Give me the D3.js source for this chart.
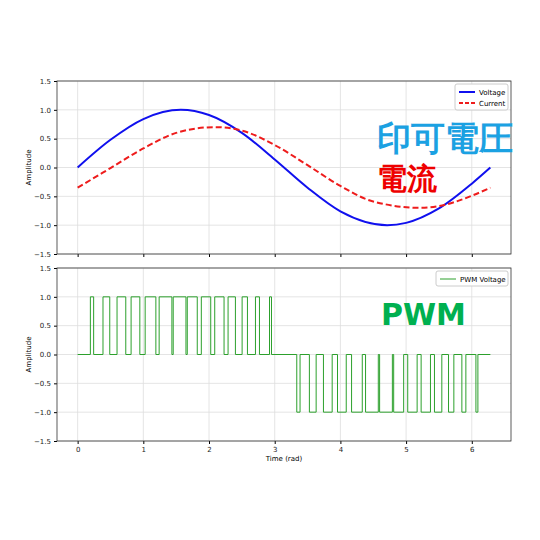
<!DOCTYPE html><html><head><meta charset="utf-8"><script src="https://cdn.jsdelivr.net/npm/d3@7"></script>
<style>body{margin:0;background:#fff}text{font-family:"DejaVu Sans",sans-serif}</style></head><body><svg id="c" width="540" height="540"></svg><script>
const tV=[0,0.5,1,1.571,2,2.5,3,3.5,4,4.712,5,5.5,6,6.283];
const voltage=[0,0.48,0.84,1,0.91,0.6,0.14,-0.35,-0.76,-1,-0.96,-0.71,-0.28,0];
const tI=[0,0.5,1,1.5,2.09,2.5,3,3.5,4,4.5,5.23,5.5,6,6.283];
const current=[-0.35,-0.01,0.33,0.6,0.7,0.64,0.39,0.04,-0.32,-0.59,-0.7,-0.67,-0.49,-0.35];
const posPulses=[[0.194,0.244],[0.386,0.489],[0.600,0.733],[0.814,0.947],[1.028,1.191],[1.241,1.435],[1.455,1.649],[1.669,1.821],[1.883,2.026],[2.087,2.229],[2.290,2.402],[2.504,2.585],[2.707,2.768],[2.921,2.951]];
const negPulses=[[3.336,3.386],[3.528,3.631],[3.742,3.875],[3.956,4.089],[4.170,4.333],[4.383,4.577],[4.597,4.791],[4.811,4.963],[5.025,5.168],[5.229,5.371],[5.432,5.544],[5.646,5.727],[5.849,5.910],[6.063,6.093]];
const xTicks=[0,1,2,3,4,5,6], yTicks=[-1.5,-1,-0.5,0,0.5,1,1.5];
const svg=d3.select("#c");
const x=d3.scaleLinear().domain([-0.314,6.597]).range([57,511]);
function panel(top,bot,showX){
 const y=d3.scaleLinear().domain([-1.5,1.5]).range([bot,top]);
 const g=svg.append("g");
 g.selectAll(".gx").data(xTicks).join("line").attr("x1",d=>x(d)).attr("x2",d=>x(d)).attr("y1",top).attr("y2",bot).attr("stroke","#ddd").attr("stroke-width",0.8);
 g.selectAll(".gy").data(yTicks).join("line").attr("y1",d=>y(d)).attr("y2",d=>y(d)).attr("x1",57).attr("x2",511).attr("stroke","#ddd").attr("stroke-width",0.8);
 const ay=g.append("g").attr("transform","translate(57,0)").call(d3.axisLeft(y).tickValues(yTicks).tickFormat(d3.format(".1f")).tickSize(3).tickSizeOuter(0));
 const ax=g.append("g").attr("transform",`translate(0,${bot})`).call(d3.axisBottom(x).tickValues(xTicks).tickFormat(showX?d3.format("d"):"").tickSize(3).tickSizeOuter(0));
 [ax,ay].forEach(a=>{a.selectAll("text").attr("font-size",7).attr("fill","#222");a.select(".domain").remove();});
 g.append("rect").attr("x",57).attr("y",top).attr("width",454).attr("height",bot-top).attr("fill","none").attr("stroke","#333").attr("stroke-width",0.8);
 g.append("text").attr("transform",`translate(31,${(top+bot)/2}) rotate(-90)`).attr("text-anchor","middle").attr("font-size",7).text("Amplitude");
 return y;
}
const y1=panel(81,254,false), y2=panel(268,441,true);
const ln=(xs,ys,y)=>d3.line().x((d,i)=>x(xs[i])).y(d=>y(d)).curve(d3.curveMonotoneX)(ys);
svg.append("path").attr("d",ln(tV,voltage,y1)).attr("fill","none").attr("stroke","#1010ee").attr("stroke-width",2);
svg.append("path").attr("d",ln(tI,current,y1)).attr("fill","none").attr("stroke","#ee1c1c").attr("stroke-width",2).attr("stroke-dasharray","6,3");
// PWM
const pts=[[0,0]];
posPulses.forEach(([a,b])=>{pts.push([a,0],[a,1],[b,1],[b,0]);});
pts.push([Math.PI,0]);
negPulses.forEach(([a,b])=>{pts.push([a,0],[a,-1],[b,-1],[b,0]);});
pts.push([6.283,0]);
svg.append("path").attr("d",d3.line().x(d=>x(d[0])).y(d=>y2(d[1]))(pts)).attr("fill","none").attr("stroke","#2ca02c").attr("stroke-width",1);
svg.append("text").attr("x",284).attr("y",461).attr("text-anchor","middle").attr("font-size",7).text("Time (rad)");
// legends
function legend(x0,y0,w,items){
 const g=svg.append("g");
 g.append("rect").attr("x",x0).attr("y",y0).attr("width",w).attr("height",4+items.length*11).attr("fill","#fff").attr("stroke","#ccc").attr("rx",2);
 items.forEach((it,i)=>{const yy=y0+8+i*11;
  g.append("line").attr("x1",x0+4).attr("x2",x0+20).attr("y1",yy).attr("y2",yy).attr("stroke",it.c).attr("stroke-width",it.w).attr("stroke-dasharray",it.d||null);
  g.append("text").attr("x",x0+24).attr("y",yy+2.5).attr("font-size",7).text(it.t);});
}
legend(455,84,53,[{t:"Voltage",c:"#1010ee",w:2},{t:"Current",c:"#ee1c1c",w:2,d:"4,2"}]);
legend(436,271,72,[{t:"PWM Voltage",c:"#2ca02c",w:1}]);
svg.append("text").attr("x",377).attr("y",150).attr("font-size",34).attr("font-weight","bold").attr("font-family","Noto Sans CJK JP").attr("fill","#1ba1e2").text("印可電圧");
svg.append("text").attr("x",377).attr("y",189).attr("font-size",30).attr("font-weight","bold").attr("font-family","Noto Sans CJK JP").attr("fill","#ee0000").text("電流");
svg.append("text").attr("x",381).attr("y",325).attr("font-size",30).attr("font-weight","bold").attr("font-family","Noto Sans").attr("fill","#00b050").text("PWM");
</script></body></html>
